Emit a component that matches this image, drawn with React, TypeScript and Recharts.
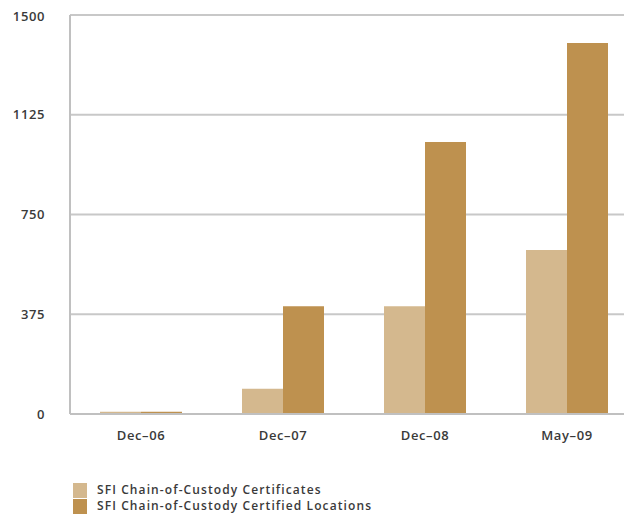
import React from 'react';
import { BarChart, Bar, XAxis, YAxis, CartesianGrid, Legend } from 'recharts';

const categories = ['Dec–06', 'Dec–07', 'Dec–08', 'May–09'];
const certificates = [8, 95, 405, 617];
const locations = [8, 405, 1023, 1395];
const yTicks = [0, 375, 750, 1125, 1500];
const seriesNames = ['SFI Chain-of-Custody Certificates', 'SFI Chain-of-Custody Certified Locations'];

const LIGHT = '#D4B88E';
const DARK = '#BE914F';
const FONT = '"Open Sans", sans-serif';

const data = categories.map((c, i) => ({ name: c, certificates: certificates[i], locations: locations[i] }));

const LegendContent = (props: any) => {
  const payload = props.payload || [];
  return (
    <div style={{ fontFamily: FONT, fontSize: 12, fontWeight: 600, color: '#3a3a3a', letterSpacing: 1.1 }}>
      {payload.map((p: any, i: number) => (
        <div key={i} style={{ display: 'flex', alignItems: 'center', height: 16, lineHeight: '14px' }}>
          <span style={{ width: 14, height: 15, background: p.color, display: 'inline-block', marginRight: 10 }} />
          <span>{p.value}</span>
        </div>
      ))}
    </div>
  );
};

export default function App() {
  return (
    <div style={{ width: 624, height: 506, overflow: 'hidden' }}>
      <BarChart
        width={630}
        height={506}
        data={data}
        margin={{ top: 7, right: 0, left: 0, bottom: 70 }}
        barGap={0}
        barSize={41}
      >
        <CartesianGrid vertical={false} stroke="#c8c8c8" strokeWidth={2} />
        <XAxis
          dataKey="name"
          tickLine={false}
          axisLine={{ stroke: '#c0c0c0', strokeWidth: 2 }}
          height={30}
          tickMargin={11}
          tick={{ fill: '#3a3a3a', fontSize: 13, fontWeight: 600, fontFamily: FONT, letterSpacing: 0.6 }}
        />
        <YAxis
          domain={[0, 1500]}
          ticks={yTicks}
          width={62}
          tickLine={false}
          axisLine={{ stroke: '#c0c0c0', strokeWidth: 2 }}
          tickMargin={19}
          tick={{ fill: '#3a3a3a', fontSize: 13, fontWeight: 600, fontFamily: FONT, letterSpacing: 0.6 }}
        />
        <Legend
          layout="vertical"
          align="center"
          verticalAlign="middle"
          content={<LegendContent />}
          wrapperStyle={{ top: 474, left: 65, width: 400 }}
        />
        <Bar dataKey="certificates" name={seriesNames[0]} fill={LIGHT} isAnimationActive={false} />
        <Bar dataKey="locations" name={seriesNames[1]} fill={DARK} isAnimationActive={false} />
      </BarChart>
    </div>
  );
}
